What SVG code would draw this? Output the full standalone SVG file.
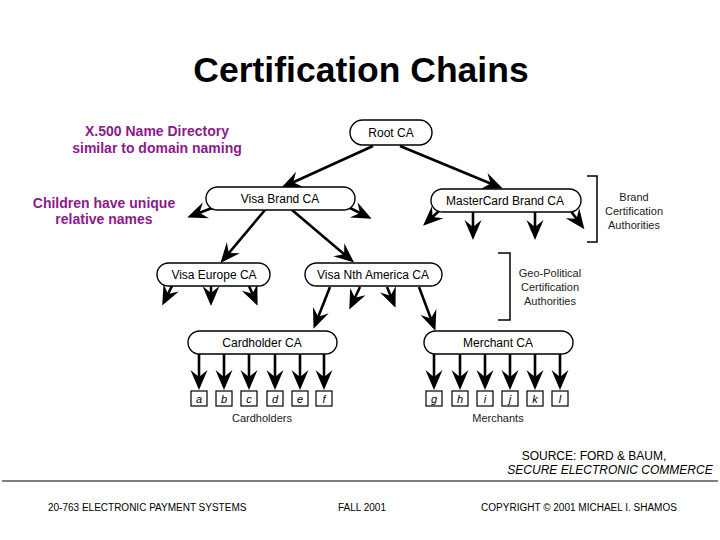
<svg xmlns="http://www.w3.org/2000/svg" width="720" height="540" viewBox="0 0 720 540">
<defs>
<style>
.node rect{fill:#fff;stroke:#000;stroke-width:1.4}
.nt{font-family:"Liberation Sans",Arial,sans-serif;font-size:12px;fill:#000;text-anchor:middle}
.leaf rect{fill:#fff;stroke:#000;stroke-width:1.2}
.lt{font-family:"Liberation Sans",Arial,sans-serif;font-size:11px;font-style:italic;fill:#000;text-anchor:middle}
.conn line{stroke:#000;stroke-width:2.6;marker-end:url(#ah)}
.note{font-family:"Liberation Sans",Arial,sans-serif;font-size:14px;font-weight:bold;fill:#8b1a8b;text-anchor:middle}
.br{fill:none;stroke:#000;stroke-width:1.5}
.bt{font-family:"Liberation Sans",Arial,sans-serif;font-size:11px;fill:#222;text-anchor:middle}
.ft{font-family:"Liberation Sans",Arial,sans-serif;font-size:10px;fill:#000}
.src{font-family:"Liberation Sans",Arial,sans-serif;font-size:12px;fill:#000;text-anchor:middle}
</style>
<marker id="ah" viewBox="-18 -9 23 18" refX="0" refY="0" markerWidth="23" markerHeight="18" markerUnits="userSpaceOnUse" orient="auto">
<path d="M4,0 L-16,-8.5 L-9,0 L-16,8.5 Z" fill="#000"/>
</marker>
</defs>
<rect width="720" height="540" fill="#fff"/>
<text x="361" y="82" font-family="Liberation Sans,Arial,sans-serif" font-size="35.5" font-weight="bold" text-anchor="middle">Certification Chains</text>

<text class="note" x="157" y="136">X.500 Name Directory</text>
<text class="note" x="157" y="153">similar to domain naming</text>
<text class="note" x="104" y="208">Children have unique</text>
<text class="note" x="104" y="224">relative names</text>

<g id="connectors" class="conn">
<line x1="373" y1="146" x2="285" y2="186"/>
<line x1="400" y1="146" x2="499" y2="187"/>
<line x1="212" y1="208" x2="191" y2="216"/>
<line x1="350" y1="208" x2="368" y2="217"/>
<line x1="265" y1="210" x2="223" y2="260"/>
<line x1="292" y1="210" x2="351" y2="260"/>
<line x1="440" y1="210" x2="426" y2="223"/>
<line x1="473" y1="212" x2="473" y2="236"/>
<line x1="535" y1="212" x2="535" y2="236"/>
<line x1="570" y1="210" x2="582" y2="226"/>
<line x1="172" y1="286" x2="164" y2="302"/>
<line x1="211" y1="286" x2="211" y2="302"/>
<line x1="249" y1="286" x2="256" y2="302"/>
<line x1="330" y1="287" x2="315" y2="325"/>
<line x1="360" y1="287" x2="351" y2="306"/>
<line x1="387" y1="287" x2="394" y2="304"/>
<line x1="419" y1="287" x2="434" y2="327"/>
<line x1="199" y1="354" x2="199" y2="386"/>
<line x1="224" y1="354" x2="224" y2="386"/>
<line x1="249" y1="354" x2="249" y2="386"/>
<line x1="275" y1="354" x2="275" y2="386"/>
<line x1="300" y1="354" x2="300" y2="386"/>
<line x1="324" y1="354" x2="324" y2="386"/>
<line x1="434" y1="354" x2="434" y2="386"/>
<line x1="460" y1="354" x2="460" y2="386"/>
<line x1="485" y1="354" x2="485" y2="386"/>
<line x1="510" y1="354" x2="510" y2="386"/>
<line x1="535" y1="354" x2="535" y2="386"/>
<line x1="560" y1="354" x2="560" y2="386"/>
</g>

<g id="root-ca" class="node"><rect x="350" y="120" width="82" height="25" rx="12.5"/><text class="nt" x="391" y="137">Root CA</text></g>
<g id="visa-brand-ca" class="node"><rect x="206" y="187" width="149" height="23" rx="11.5"/><text class="nt" x="280" y="203">Visa Brand CA</text></g>
<g id="mastercard-brand-ca" class="node"><rect x="431" y="189" width="150" height="23" rx="11.5"/><text class="nt" x="505" y="205">MasterCard Brand CA</text></g>
<g id="visa-europe-ca" class="node"><rect x="157" y="263" width="113" height="23" rx="11.5"/><text class="nt" x="214" y="279">Visa Europe CA</text></g>
<g id="visa-nth-america-ca" class="node"><rect x="305" y="263" width="137" height="23" rx="11.5"/><text class="nt" x="373" y="279">Visa Nth America CA</text></g>
<g id="cardholder-ca" class="node"><rect x="188" y="331" width="149" height="23" rx="11.5"/><text class="nt" x="262" y="347">Cardholder CA</text></g>
<g id="merchant-ca" class="node"><rect x="424" y="331" width="149" height="23" rx="11.5"/><text class="nt" x="498" y="347">Merchant CA</text></g>

<g id="leaf-a" class="leaf"><rect x="191" y="391" width="16" height="15"/><text class="lt" x="199" y="403">a</text></g>
<g id="leaf-b" class="leaf"><rect x="216" y="391" width="16" height="15"/><text class="lt" x="224" y="403">b</text></g>
<g id="leaf-c" class="leaf"><rect x="241" y="391" width="16" height="15"/><text class="lt" x="249" y="403">c</text></g>
<g id="leaf-d" class="leaf"><rect x="267" y="391" width="16" height="15"/><text class="lt" x="275" y="403">d</text></g>
<g id="leaf-e" class="leaf"><rect x="292" y="391" width="16" height="15"/><text class="lt" x="300" y="403">e</text></g>
<g id="leaf-f" class="leaf"><rect x="316" y="391" width="16" height="15"/><text class="lt" x="324" y="403">f</text></g>
<g id="leaf-g" class="leaf"><rect x="426" y="391" width="16" height="15"/><text class="lt" x="434" y="403">g</text></g>
<g id="leaf-h" class="leaf"><rect x="452" y="391" width="16" height="15"/><text class="lt" x="460" y="403">h</text></g>
<g id="leaf-i" class="leaf"><rect x="477" y="391" width="16" height="15"/><text class="lt" x="485" y="403">i</text></g>
<g id="leaf-j" class="leaf"><rect x="502" y="391" width="16" height="15"/><text class="lt" x="510" y="403">j</text></g>
<g id="leaf-k" class="leaf"><rect x="527" y="391" width="16" height="15"/><text class="lt" x="535" y="403">k</text></g>
<g id="leaf-l" class="leaf"><rect x="552" y="391" width="16" height="15"/><text class="lt" x="560" y="403">l</text></g>

<text class="bt" x="262" y="422">Cardholders</text>
<text class="bt" x="498" y="422">Merchants</text>

<g id="brand-bracket">
<path class="br" d="M587,176 H597 V242 H587"/>
<text class="bt" x="634" y="201">Brand</text>
<text class="bt" x="634" y="215">Certification</text>
<text class="bt" x="634" y="229">Authorities</text>
</g>
<g id="geo-bracket">
<path class="br" d="M498,253 H510 V320 H498"/>
<text class="bt" x="550" y="277">Geo-Political</text>
<text class="bt" x="550" y="291">Certification</text>
<text class="bt" x="550" y="305">Authorities</text>
</g>

<text class="src" x="594" y="460">SOURCE: FORD &amp; BAUM,</text>
<text class="src" x="610" y="474" font-style="italic">SECURE ELECTRONIC COMMERCE</text>
<line x1="2" y1="481" x2="718" y2="481" stroke="#000" stroke-width="1.2"/>
<text class="ft" x="48" y="511">20-763 ELECTRONIC PAYMENT SYSTEMS</text>
<text class="ft" x="362" y="511" text-anchor="middle">FALL 2001</text>
<text class="ft" x="579" y="511" text-anchor="middle">COPYRIGHT © 2001 MICHAEL I. SHAMOS</text>
</svg>
